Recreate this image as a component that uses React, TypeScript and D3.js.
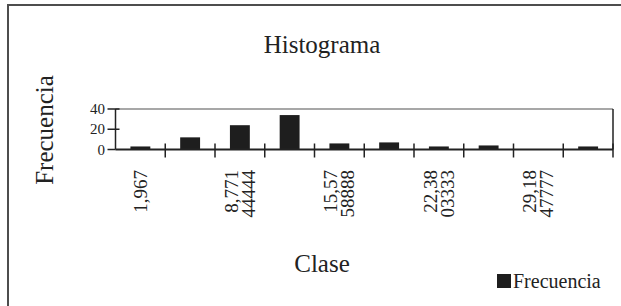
import React from 'react';
import * as d3 from 'd3';

// Histogram data
const classes = ['1,967', '5,369', '8,771', '12,17', '15,57', '18,98', '22,38', '25,78', '29,18', 'y mayor...'];
const frequencies = [3, 12, 24, 34, 6, 7, 3, 4, 0, 3];
// Excel only shows every other class label, wrapped on two lines
const tickLabels = [['1,967'], [], ['8,771', '44444'], [], ['15,57', '58888'], [], ['22,38', '03333'], [], ['29,18', '47777'], []];
const yTicks = [0, 20, 40];

const width = 621;
const height = 306;
const font = '"Liberation Serif", "Times New Roman", serif';

const App = () => {
  const left = 115.5;
  const right = 613;
  const top = 109;
  const bottom = 149.5;

  // band scale for the classes, bars take 40% of each band
  const x = d3.scaleBand().domain(classes).range([left, right]).paddingInner(0).paddingOuter(0);
  const bw = x.bandwidth();
  const barW = bw * 0.4;
  const y = d3.scaleLinear().domain([0, 40]).range([bottom, top]);

  return (
    <svg width={width} height={height} style={{ position: 'absolute', left: 0, top: 0 }} fontFamily={font}>
      <rect x={0} y={0} width={width} height={height} fill="#fff" />
      {/* outer frame, only left and top edges are in the picture */}
      <line x1={8} x2={width} y1={5} y2={5} stroke="#4d4d4d" strokeWidth={2} />
      <line x1={8} x2={8} y1={4} y2={height} stroke="#4d4d4d" strokeWidth={2} />

      <text x={322} y={53} fontSize={25} textAnchor="middle" fill="#222">Histograma</text>
      <text x={322} y={272} fontSize={25} textAnchor="middle" fill="#222">Clase</text>
      <text transform="translate(53,130) rotate(-90)" fontSize={25} textAnchor="middle" fill="#222">Frecuencia</text>

      {/* plot frame */}
      <line x1={left} x2={right} y1={y(40)} y2={y(40)} stroke="#8a8a8a" strokeWidth={1.5} />
      <line x1={right} x2={right} y1={y(40)} y2={bottom} stroke="#222" strokeWidth={1.5} />

      {/* bars */}
      {frequencies.map((f, i) => (
        <rect key={i} x={x(classes[i])! + (bw - barW) / 2} y={y(f)} width={barW} height={bottom - y(f)} fill="#1e1e1e" />
      ))}

      {/* y axis */}
      <line x1={left} x2={left} y1={y(40)} y2={bottom} stroke="#222" strokeWidth={1.5} />
      {yTicks.map((t) => (
        <g key={t}>
          <line x1={left - 8} x2={t === 0 ? left : left + 4} y1={y(t)} y2={y(t)} stroke="#222" strokeWidth={1.5} />
          <text x={105} y={y(t) + 5} fontSize={15} textAnchor="end" fill="#222">{t}</text>
        </g>
      ))}

      {/* x axis */}
      <line x1={left} x2={right} y1={bottom} y2={bottom} stroke="#222" strokeWidth={2} />
      {classes.map((c) => (
        <line key={c} x1={x(c)! + bw} x2={x(c)! + bw} y1={bottom - 6} y2={bottom + 8} stroke="#222" strokeWidth={1.5} />
      ))}
      {classes.map((c, i) => {
        const lines = tickLabels[i];
        const cx = x(c)! + bw / 2;
        return lines.map((s, j) => {
          const bx = cx + 6.5 - (lines.length - 1) * 8.5 + j * 17;
          return (
            <text key={c + j} transform={`translate(${bx},170) rotate(-90)`} fontSize={19} textAnchor="end" fill="#222">
              {s}
            </text>
          );
        });
      })}

      {/* legend */}
      <rect x={497} y={274} width={14} height={14} fill="#1e1e1e" />
      <text x={513} y={288} fontSize={20} fill="#222">Frecuencia</text>
    </svg>
  );
};

export default App;
